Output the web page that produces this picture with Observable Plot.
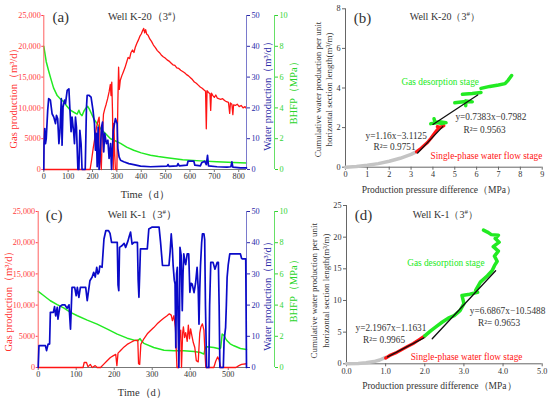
<!DOCTYPE html>
<html><head><meta charset="utf-8">
<script src="https://cdn.jsdelivr.net/npm/d3@7"></script>
<script src="https://cdn.jsdelivr.net/npm/@observablehq/plot@0.6"></script>
<style>
body{margin:0;background:#fff;}
#root{position:relative;width:550px;height:406px;overflow:hidden;background:#fff;}
</style></head><body><div id="root"></div>
<script>
// ---------------- DATA ----------------
// Panel (a) Well K-20: [time (d), value]
const k20Gas = [[0,0],[190,0],[196,1500],[203,3500],[210,5200],[216,6800],[222,7800],[227,8500],[230,6000],[233,1500],[236,0],[240,5500],[245,9000],[250,9800],[256,10600],[262,11500],[268,12600],[273,13800],[276,12000],[279,14200],[282,9500],[285,0],[288,7500],[291,2500],[294,0],[300,0],[304,11000],[307,16600],[310,13000],[314,14500],[320,15200],[326,15800],[333,16500],[340,17400],[346,18200],[352,18000],[358,19000],[364,19400],[370,19000],[376,19900],[382,20500],[388,21000],[394,21600],[400,22000],[405,22500],[410,22900],[414,22200],[418,22700],[422,22000],[428,21800],[435,21200],[442,20800],[450,20200],[458,19800],[466,19300],[474,19000],[482,18600],[490,18300],[498,18100],[506,17800],[514,17600],[522,17300],[530,17000],[538,16900],[546,16500],[554,16400],[562,16100],[570,15900],[578,15700],[586,15400],[594,15200],[602,14900],[610,14600],[618,14200],[626,14000],[634,13700],[642,13400],[650,13200],[658,12900],[664,12700],[667,6600],[670,12800],[676,12500],[682,12300],[685,9600],[688,12400],[694,12000],[700,11700],[706,12100],[712,11600],[718,11500],[726,11400],[734,11500],[742,11200],[750,11000],[758,10900],[763,9100],[766,10800],[772,10600],[776,8900],[779,10500],[786,10400],[794,10600],[802,10200],[810,10400],[818,10000],[826,10200],[832,9900]];
const k20Water = [[0,0],[1,8.4],[4,13.3],[7,8.4],[10,10],[16,19.2],[20,23],[27,22.5],[34,18.1],[41,17],[48,14.9],[52,17.6],[57,16.5],[62,8.4],[66,12],[72,23],[75,7.9],[79,20.3],[85,22.5],[89,21.4],[96,25.7],[103,26.2],[107,19.8],[112,12.3],[116,17],[123,11.7],[126,8.4],[130,17],[134,13.8],[140,0],[144,0],[148,12.7],[153,8.4],[157,0],[170,0],[175,20],[178,24.1],[185,24.1],[194,23.5],[202,19.2],[208,14.9],[212,6.3],[216,11.7],[219,0.9],[223,13.8],[227,0],[233,7.3],[237,13.8],[241,15.4],[246,5.7],[250,11.7],[257,8.4],[263,9.5],[268,3.6],[274,8.4],[278,0],[285,12.7],[294,16.5],[301,14.9],[304,6.8],[309,4.1],[315,3],[328,2.5],[349,1.9],[369,1.6],[397,1.1],[438,0.9],[506,1.1],[510,1.6],[514,1.0],[547,1.2],[551,1.9],[556,1.2],[588,1.4],[592,2.7],[616,2.7],[620,1.4],[643,1.2],[648,2.2],[660,2.7],[667,1.6],[672,4.6],[676,1.2],[711,0.9],[752,0.8],[768,0.9],[772,2.5],[776,0.8],[807,0.5],[832,0.5]];
const k20Bhfp = [[0,8.0],[10,7.0],[20,6.4],[27,6.0],[40,5.3],[55,4.8],[70,4.55],[82,4.4],[95,4.1],[109,3.85],[125,3.7],[137,3.6],[144,3.85],[150,3.6],[157,3.5],[165,3.8],[171,3.95],[180,4.1],[186,3.95],[192,3.75],[205,3.3],[220,2.95],[233,2.65],[255,2.3],[274,2.0],[295,1.85],[315,1.7],[340,1.45],[369,1.25],[400,1.08],[438,0.93],[470,0.84],[506,0.76],[570,0.63],[643,0.56],[710,0.5],[780,0.45],[832,0.43]];

// Panel (c) Well K-1: [time (d), value]
const k1Gas = [[0,0],[118,0],[121,800],[127,800],[131,100],[137,500],[142,0],[150,300],[155,0],[164,0],[172,500],[180,1000],[190,1600],[198,1900],[204,2100],[207,300],[210,2300],[218,2800],[226,3300],[234,3700],[243,4000],[252,4300],[262,4400],[264,600],[267,500],[270,3700],[278,4600],[287,5400],[295,5900],[304,6400],[313,7000],[322,7500],[330,7900],[339,8300],[345,8600],[350,8400],[353,7500],[357,8300],[361,6400],[365,0],[369,0],[372,5000],[375,6000],[377,0],[380,5500],[382,6500],[385,4800],[388,5600],[392,4200],[395,6800],[398,4600],[401,6200],[404,5200],[408,4000],[412,3200],[416,1100],[421,900],[425,5500],[428,6500],[432,7000],[436,6000],[439,2000],[441,0],[462,0],[467,1000],[472,1700],[476,1200],[480,0],[520,0],[528,300],[535,500],[548,600]];
const k1Water = [[0,0],[2,7],[19,7],[22,5.4],[26,7.5],[30,7.5],[32,17.7],[40,17.7],[43,19.5],[46,16.5],[50,19.3],[52,15.5],[57,19.5],[63,20.1],[70,20.1],[76,19],[81,20.1],[85,12.3],[89,25.7],[96,25.7],[100,23],[103,25.7],[107,22.5],[111,25.7],[125,25.7],[129,21.4],[136,27.8],[142,29],[146,30.5],[150,29],[154,32.1],[157,30],[160,30.5],[162,32.5],[168,32.1],[173,41.2],[178,43.9],[185,43.9],[189,43],[193,40.1],[208,40.1],[210,26.5],[212,24.6],[214,38.5],[220,39],[226,39.8],[230,38.5],[236,40.5],[239,41.8],[243,43.4],[247,39.5],[252,40.1],[261,40.1],[263,28],[265,22.5],[267,30],[269,38],[287,38],[291,44.4],[300,45],[318,45],[322,40],[327,32.7],[344,32.7],[347,37],[350,42.8],[353,38],[355,32.7],[358,28],[360,26.8],[362,6.4],[364,30],[366,32.1],[368,15],[370,0],[372,20],[373,38.5],[376,36],[379,18.2],[381,30],[383,36.4],[386,34],[388,33],[392,36.4],[396,36.4],[399,24.1],[402,27],[405,26.8],[410,24],[414,27],[418,32.1],[421,25],[423,13.9],[425,25],[427,32.7],[430,40],[432,42.8],[436,42.8],[438,41],[440,20],[443,0],[449,0],[451,20],[454,33.7],[460,33.7],[465,31.5],[471,33.7],[474,33.7],[476,20],[478,0],[487,0],[489,8.6],[493,12.8],[495,20],[497,28.9],[500,33],[504,36.4],[532,36.4],[535,35],[537,34.8],[546,34.8],[547,18],[548,0]];
const k1Bhfp = [[0,4.88],[15,4.6],[32,4.28],[50,4.03],[68,3.81],[85,3.53],[103,3.32],[129,3.04],[155,2.78],[182,2.46],[208,2.14],[234,1.88],[255,1.74],[262,1.72],[268,1.85],[272,1.7],[278,1.55],[304,1.28],[331,1.11],[357,1.07],[383,1.07],[410,1.03],[427,0.96],[436,0.86],[440,1.3],[445,1.33],[462,1.28],[476,1.2],[480,1.25],[484,2.15],[489,2.05],[493,1.85],[497,1.71],[505,1.52],[515,1.39],[532,1.22],[548,1.16]];

// Panel (b) Well K-20: [pressure difference (MPa), cumulative water per unit length, segment]
const k20Grey  = [[0,0],[0.5,0.04],[1,0.1],[1.5,0.18],[2,0.3],[2.5,0.45],[3,0.65],[3.28,0.8]];
const k20Red   = [[3.25,0.78],[3.4,0.9],[3.55,1.05],[3.65,1.15],[3.75,1.25],[3.9,1.45],[4.0,1.6],[4.1,1.75],[4.2,1.9],[4.3,2.0],[4.4,2.05],[4.5,2.1],[4.35,2.0],[4.2,2.05]];
const k20Green = [[3.9,2.2,1],[4.2,2.25,1],[4.4,2.2,1],[4.6,2.25,1],[4.3,2.3,1],[4.1,2.25,1],[4.05,2.45,1],
  [5.0,3.25,2],[5.4,3.3,2],[5.8,3.3,2],[5.5,3.35,2],[5.5,3.1,2],
  [5.35,3.68,3],[5.8,3.72,3],[6.2,3.77,3],
  [6.2,3.98,4],[6.6,4.08,4],[7.0,4.15,4],[7.3,4.22,4],[7.45,4.4,4],[7.6,4.63,4]];
const k20FitRed   = [[3.3,0.72],[4.45,2.05]];
const k20FitGreen = [[4.0,2.16],[6.05,3.65]];

// Panel (d) Well K-1
const k1Grey  = [[0,0],[0.3,0.05],[0.5,0.15],[0.7,0.35],[0.85,0.6],[1.0,1.0]];
const k1Red   = [[1.0,0.9],[1.1,1.3],[1.25,1.7],[1.4,2.2],[1.55,2.7],[1.7,3.2],[1.85,3.8],[2.0,4.4]];
const k1Green = [[2.0,4.4,1],[2.15,5.2,1],[2.3,5.9,1],[2.45,6.6,1],[2.6,7.2,1],[2.75,7.6,1],[2.9,8.4,1],[3.0,9.5,1],[2.95,10.8,1],[3.15,11.0,1],[3.35,11.3,1],[3.3,11.6,1],[3.42,12.9,1],[3.6,13.9,1],[3.72,14.7,1],[3.78,15.5,1],[3.85,16.2,1],[3.78,17,1],[3.88,17.8,1],[3.75,18.5,1],[3.9,19.2,1],[3.8,19.8,1],[3.88,20.3,1],[3.7,20.4,1],[3.6,20.8,1],[3.5,21.1,1]];
const k1FitRed   = [[1.05,1.1],[1.98,4.1]];
const k1FitGreen = [[2.19,3.95],[3.81,14.7]];

// tick values
const timeTicksA = [0,100,200,300,400,500,600,700,800];
const timeTicksC = [0,100,200,300,400,500];
const gasTicks = [0,5000,10000,15000,20000,25000];
const waterTicks = [0,10,20,30,40,50];
const bhfpTicks = [0,2,4,6,8,10];

// ---------------- DRAWING ----------------
const W = 550, H = 406;
const root = document.getElementById("root");
const serif = "Liberation Serif";
const RED = "#ff1414", BLUE = "#0a0ac8", GREEN = "#22ea22", TXT = "#333";
const X = d => d[0], Y = d => d[1], Z = d => d[2];
const fmtGas = d => d === 0 ? "0" : d < 10000 ? String(d) : d3.format(",")(d);
const AX = {fontFamily: serif, fontSize: 8.2};

function supHash(svg){
  const ns = "http://www.w3.org/2000/svg";
  svg.querySelectorAll("text").forEach(t => {
    const s = t.textContent;
    if (s.includes("#") && t.children.length === 0) {
      const [a, b] = s.split("#");
      t.textContent = "";
      const t1 = document.createElementNS(ns, "tspan"); t1.textContent = a;
      const t2 = document.createElementNS(ns, "tspan"); t2.textContent = "#";
      t2.setAttribute("font-size", "7"); t2.setAttribute("baseline-shift", "super");
      const t3 = document.createElementNS(ns, "tspan"); t3.textContent = b;
      t.append(t1, t2, t3);
    }
  });
}

function layer(frame, opts){
  const [x0, y0, x1, y1] = frame;
  const svg = Plot.plot({
    width: W, height: H,
    marginLeft: x0, marginRight: W - x1, marginTop: y0, marginBottom: H - y1,
    style: {background: "transparent", fontFamily: serif, fontSize: "10px", overflow: "visible", color: TXT, position: "absolute", left: "0px", top: "0px"},
    ...opts
  });
  supHash(svg);
  root.appendChild(svg);
}

const lab = (s, o) => Plot.text([s], {text: d => d, lineAnchor: "middle", textAnchor: "middle", fontFamily: serif, ...o});

function timePanel(f, c){
  const xd = [0, c.tmax];
  // BHFP line
  layer(f, {x: {domain: xd, axis: null}, y: {domain: [0, 10], axis: null},
    marks: [Plot.line(c.bhfp, {x: X, y: Y, stroke: GREEN, strokeWidth: 1.5})]});
  // Gas
  layer(f, {x: {domain: xd}, y: {domain: [0, 25000]},
    marks: [
      Plot.ruleY([0], {stroke: "#777"}),
      Plot.axisX({ticks: c.xticks, tickSize: 3, tickPadding: 1, color: TXT, stroke: "#777", label: null, ...AX}),
      Plot.axisY({ticks: gasTicks, tickFormat: fmtGas, tickSize: 2, tickPadding: 1, color: "#ff4040", label: null, ...AX}),
      Plot.ruleX([0], {stroke: "#ff6060"}),
      Plot.line(c.gas, {x: X, y: Y, stroke: RED, strokeWidth: 1.3}),
      lab("Gas production（m³/d）", {frameAnchor: "left", dx: c.gasDx, dy: c.gasDy, rotate: -90, fill: "#ff3030", fontSize: 10.5}),
      lab("Time（d）", {frameAnchor: "bottom", dy: 25, fontSize: 10.5, fill: TXT}),
      lab(c.tag, {frameAnchor: "top-left", dx: c.tagDx, dy: c.tagDy, fontSize: 15, fill: TXT}),
      lab(c.title, {frameAnchor: "top", dy: c.tagDy - 1, fontSize: 10.5, fill: TXT})
    ]});
  // Water
  layer(f, {x: {domain: xd, axis: null}, y: {domain: [0, 50]},
    marks: [
      Plot.axisY({anchor: "right", ticks: waterTicks, tickSize: 3, tickPadding: 2, color: "#2a2aa8", label: null, ...AX}),
      Plot.ruleX([c.tmax], {stroke: "#7a7acc"}),
      Plot.line(c.water, {x: X, y: Y, stroke: BLUE, strokeWidth: 1.7}),
      lab("Water production（m³/d）", {frameAnchor: "right", dx: 21, dy: c.wDy, rotate: -90, fill: "#2a2aa8", fontSize: 10.5})
    ]});
  // BHFP axis
  layer([250, f[1], 274, f[3]], {x: {domain: [0, 1], axis: null}, y: {domain: [0, 10]},
    marks: [
      Plot.axisY({anchor: "right", ticks: bhfpTicks, tickSize: 3, tickPadding: 2, color: "#33d433", label: null, ...AX}),
      Plot.ruleX([1], {stroke: "#66e066"}),
      lab("BHFP（MPa）", {frameAnchor: "right", dx: 19, dy: c.bDy, rotate: -90, fill: "#2ad42a", fontSize: 10.5})
    ]});
}

function scatterPanel(f, c){
  layer(f, {x: {domain: c.xd}, y: {domain: c.yd},
    marks: [
      Plot.ruleY([0], {stroke: "#666"}),
      Plot.ruleX([0], {stroke: "#666"}),
      Plot.axisX({ticks: c.xticks, tickSize: 3, tickPadding: 1, color: TXT, stroke: "#666", label: null, ...AX}),
      Plot.axisY({ticks: c.yticks, tickSize: 3, tickPadding: 2, color: TXT, stroke: "#666", label: null, ...AX}),
      Plot.line(c.grey, {x: X, y: Y, stroke: "#c4c4c4", strokeWidth: 3.5}),
      Plot.line(c.red, {x: X, y: Y, stroke: RED, strokeWidth: 3.2, strokeLinejoin: "round"}),
      Plot.line(c.green, {x: X, y: Y, z: Z, stroke: GREEN, strokeWidth: 3.5, strokeLinejoin: "round", strokeLinecap: "round"}),
      Plot.line(c.fitRed, {x: X, y: Y, stroke: "#111", strokeWidth: 1.3}),
      Plot.line(c.fitGreen, {x: X, y: Y, stroke: "#111", strokeWidth: 1.3}),
      Plot.text(c.ann, {x: "x", y: "y", text: "t", fill: "c", textAnchor: "start", fontSize: 9.3, fontFamily: serif}),
      lab("Cumulative water production per unit\nhorizontal section length(m³/m)", {frameAnchor: "left", dx: c.yDx, dy: c.yDy, rotate: -90, fontSize: 9, lineHeight: 1.25, fill: TXT}),
      lab("Production pressure difference（MPa）", {frameAnchor: "bottom", dx: -5, dy: c.xDy, fontSize: 9.5, fill: TXT}),
      lab(c.tag, {frameAnchor: "top-left", dx: 17, dy: c.tagDy, fontSize: 15, fill: TXT}),
      lab(c.title, {frameAnchor: "top", dx: 1, dy: c.tagDy - 1, fontSize: 10, fill: TXT})
    ]});
}

timePanel([43.3, 15, 246, 169], {tmax: 832, xticks: timeTicksA, gas: k20Gas, water: k20Water, bhfp: k20Bhfp,
  tag: "(a)", title: "Well K-20（3#）", tagDx: 17, tagDy: 2, gasDx: -30, gasDy: 3, wDy: 1, bDy: -2});
timePanel([37.7, 211, 246, 367], {tmax: 548, xticks: timeTicksC, gas: k1Gas, water: k1Water, bhfp: k1Bhfp,
  tag: "(c)", title: "Well K-1（3#）", tagDx: 16, tagDy: 4, gasDx: -30, gasDy: 9, wDy: 4, bDy: -1});

scatterPanel([345, 8.3, 541.7, 166.7], {xd: [0, 9], yd: [0, 8], xticks: [0,1,2,3,4,5,6,7,8,9], yticks: [0,2,4,6,8],
  grey: k20Grey, red: k20Red, green: k20Green, fitRed: k20FitRed, fitGreen: k20FitGreen,
  tag: "(b)", title: "Well K-20（3#）", tagDy: 9, yDx: -22.5, yDy: 1.5, xDy: 23,
  ann: [
    {t: "Gas desorption stage", x: 2.56, y: 4.28, c: GREEN},
    {t: "y=0.7383x−0.7982", x: 5.03, y: 2.53, c: TXT},
    {t: "R²= 0.9563", x: 5.4, y: 1.9, c: TXT},
    {t: "y=1.16x−3.1125", x: 0.92, y: 1.6, c: TXT},
    {t: "R²= 0.9751", x: 1.28, y: 1.01, c: TXT},
    {t: "Single-phase water flow stage", x: 3.89, y: 0.59, c: RED}
  ]});
scatterPanel([346, 205, 541.7, 363.3], {xd: [0, 5], yd: [0, 25], xticks: [0,1,2,3,4,5], yticks: [0,5,10,15,20,25],
  grey: k1Grey, red: k1Red, green: k1Green, fitRed: k1FitRed, fitGreen: k1FitGreen,
  tag: "(d)", title: "Well K-1（3#）", tagDy: 10, yDx: -27, yDy: 6, xDy: 22,
  ann: [
    {t: "Gas desorption stage", x: 1.55, y: 15.9, c: GREEN},
    {t: "y=6.6867x−10.5488", x: 3.15, y: 8.4, c: TXT},
    {t: "R²= 0.9653", x: 3.36, y: 6.5, c: TXT},
    {t: "y=2.1967x−1.1631", x: 0.23, y: 5.6, c: TXT},
    {t: "R²= 0.9965", x: 0.42, y: 3.8, c: TXT},
    {t: "Single-phase water flow stage", x: 1.64, y: 1.05, c: RED}
  ]});
</script></body></html>
